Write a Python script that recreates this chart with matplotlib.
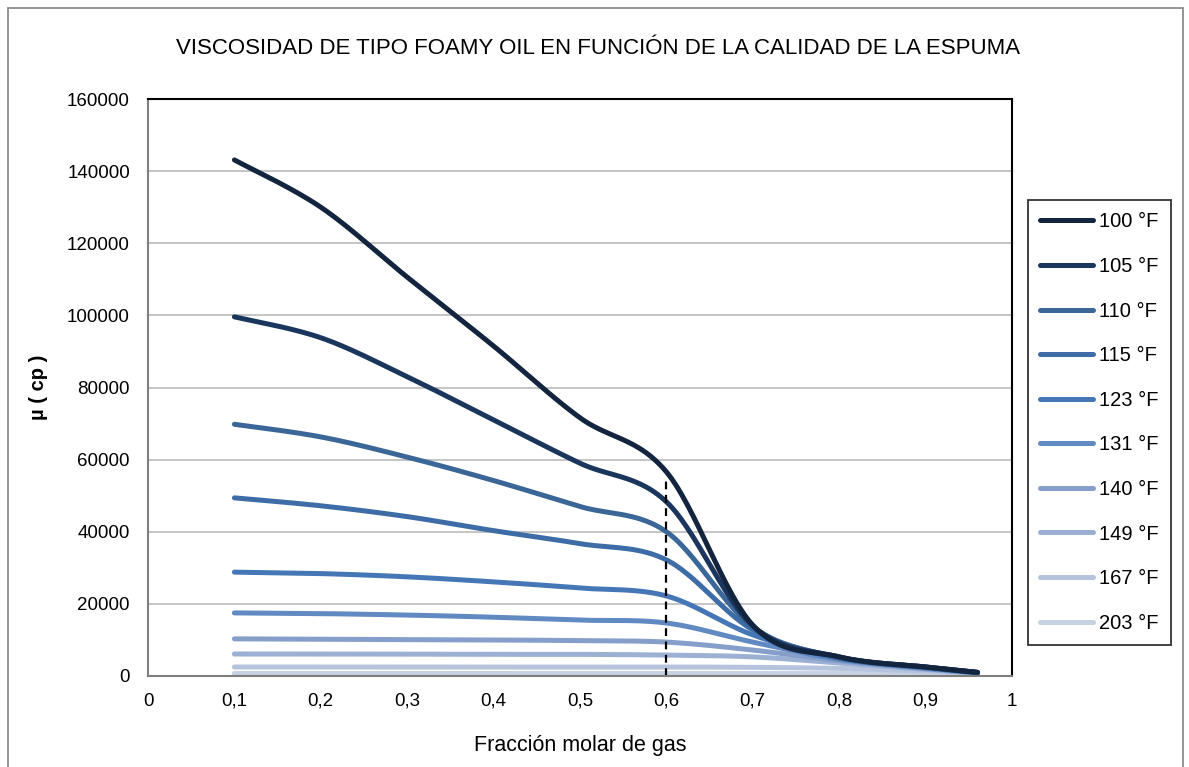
from __future__ import annotations

import matplotlib

matplotlib.use("Agg")
import matplotlib.pyplot as plt
import numpy as np
from matplotlib.patches import Rectangle
from matplotlib.ticker import FuncFormatter, MultipleLocator

plt.rcParams["font.family"] = ["Liberation Sans", "DejaVu Sans"]

# gas molar fraction (x) shared by all curves
gas_fraction = [0.1, 0.2, 0.3, 0.4, 0.5, 0.6, 0.7, 0.8, 0.9, 0.96]

labels = ["100 °F", "105 °F", "110 °F", "115 °F", "123 °F",
          "131 °F", "140 °F", "149 °F", "167 °F", "203 °F"]

# viscosity in cp
mu_100 = [143100, 130000, 110600, 91500, 71600, 56600, 14100, 5300, 2500, 1000]
mu_105 = [99600, 93800, 83000, 71000, 59000, 48300, 13900, 5300, 2500, 1000]
mu_110 = [69800, 66300, 60700, 54200, 47000, 40000, 13600, 5200, 2500, 1000]
mu_115 = [49400, 47200, 44200, 40300, 36700, 32200, 12800, 5100, 2400, 1000]
mu_123 = [28800, 28400, 27500, 26100, 24400, 22200, 11400, 4900, 2300, 900]
mu_131 = [17500, 17300, 16900, 16300, 15500, 14700, 9400, 4600, 2200, 900]
mu_140 = [10300, 10200, 10100, 10000, 9800, 9400, 7200, 4200, 2000, 800]
mu_149 = [6100, 6100, 6050, 6000, 6000, 5800, 5300, 3600, 1800, 800]
mu_167 = [2500, 2500, 2500, 2500, 2500, 2500, 2400, 2100, 1400, 700]
mu_203 = [700, 700, 700, 700, 700, 700, 700, 700, 600, 500]

series = [mu_100, mu_105, mu_110, mu_115, mu_123,
          mu_131, mu_140, mu_149, mu_167, mu_203]

colors = ["#13243f", "#1b365d", "#3b6698", "#3e6ca6", "#4577b6",
          "#6189c2", "#859fca", "#9cb0d4", "#b5c3dd", "#c6d1e2"]

title = "VISCOSIDAD DE TIPO FOAMY OIL EN FUNCIÓN DE LA CALIDAD DE LA ESPUMA"


def smooth(x, y, n=30):
    # Excel-style smoothed line: cubic Bezier through each point,
    # control handles from neighbouring points (Catmull-Rom)
    p = np.column_stack([x, y]).astype(float)
    ext = np.vstack([p[0], p, p[-1]])
    t = np.linspace(0, 1, n)[:, None]
    out = []
    for i in range(len(p) - 1):
        p0, p1, p2, p3 = ext[i], ext[i + 1], ext[i + 2], ext[i + 3]
        c1 = p1 + (p2 - p0) / 6
        c2 = p2 - (p3 - p1) / 6
        seg = ((1 - t) ** 3) * p1 + 3 * ((1 - t) ** 2) * t * c1 \
            + 3 * (1 - t) * t ** 2 * c2 + t ** 3 * p2
        out.append(seg if i == 0 else seg[1:])
    seg = np.vstack(out)
    return seg[:, 0], seg[:, 1]


fig = plt.figure(figsize=(11.89, 7.67), dpi=100)
ax = fig.add_axes([148 / 1189, 1 - 676 / 767, (1012 - 148) / 1189, (676 - 99) / 767])

# outer chart border
fig.patches.append(Rectangle((8 / 1189, -0.05), (1183 - 8) / 1189, 1.05 - 8 / 767,
                             transform=fig.transFigure, fill=False,
                             edgecolor="#8c8c8c", linewidth=1.3))

for y, lab, col in reversed(list(zip(series, labels, colors))):
    xs, ys = smooth(gas_fraction, y)
    ax.plot(xs, ys, color=col, linewidth=3.6, solid_capstyle="round", label=lab)

ax.vlines(0.6, 0, 55000, colors="black", linestyles=(0, (3.5, 2.5)), linewidth=1.6)

ax.set_xlim(0, 1)
ax.set_ylim(0, 160000)
ax.xaxis.set_major_locator(MultipleLocator(0.1))
ax.yaxis.set_major_locator(MultipleLocator(20000))
ax.xaxis.set_major_formatter(FuncFormatter(lambda v, _: f"{v:g}".replace(".", ",")))
ax.yaxis.set_major_formatter(FuncFormatter(lambda v, _: f"{v:.0f}"))
ax.tick_params(length=0, labelsize=13.5)
ax.tick_params(axis="x", pad=12)
ax.tick_params(axis="y", pad=13)

ax.grid(axis="y", color="#c0c0c0", linewidth=1.3)
ax.set_axisbelow(True)
for side in ("left", "bottom"):
    ax.spines[side].set_color("#7f7f7f")
    ax.spines[side].set_linewidth(1.5)
for side in ("top", "right"):
    ax.spines[side].set_color("black")
    ax.spines[side].set_linewidth(1.5)

ax.set_xlabel("Fracción molar de gas", fontsize=15.5, labelpad=18)
ax.set_ylabel("µ ( cp )", fontsize=14.5, fontweight="bold", labelpad=14)
fig.text(598 / 1189, 1 - 48 / 767, title, ha="center", va="center", fontsize=16)

handles, labs = ax.get_legend_handles_labels()
leg = fig.legend(handles[::-1], labs[::-1], loc="upper left",
                 bbox_to_anchor=(1028 / 1189, 1 - 200 / 767),
                 frameon=True, fancybox=False, fontsize=14.5,
                 handlelength=2.6, handletextpad=0.3, labelspacing=1.27,
                 borderpad=0.62, borderaxespad=0)
leg.get_frame().set_edgecolor("black")
leg.get_frame().set_linewidth(1.3)

fig.savefig("out.png", dpi=100)
